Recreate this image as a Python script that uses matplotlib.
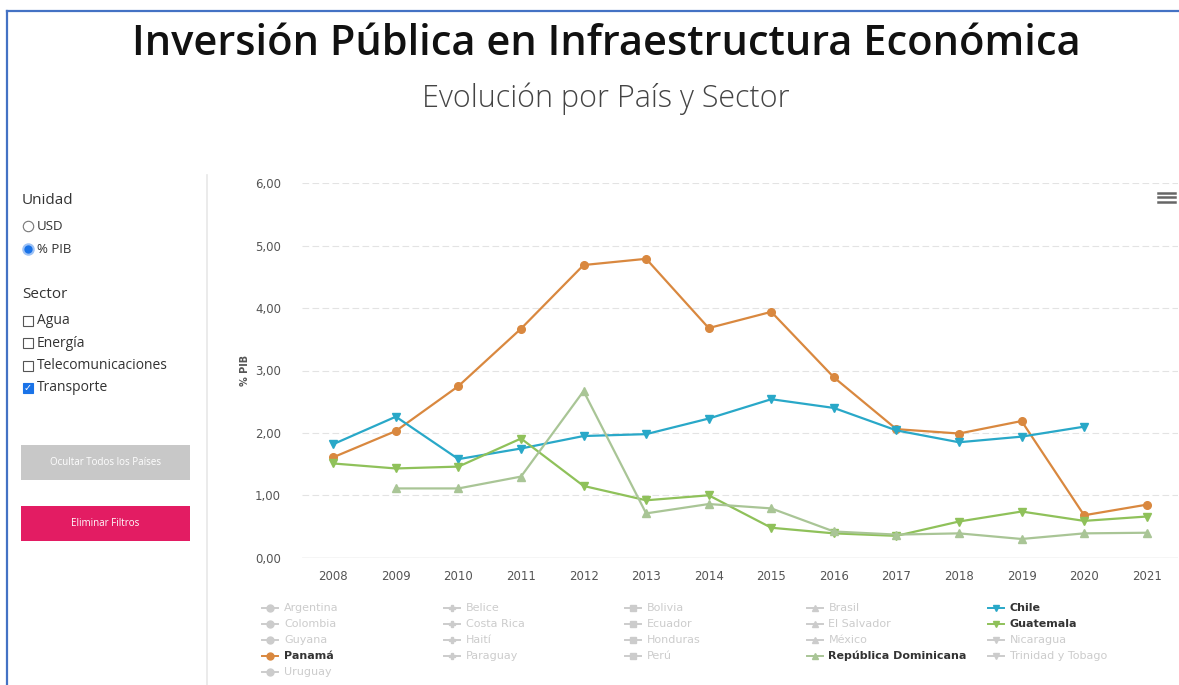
import numpy as np
import matplotlib.pyplot as plt
from matplotlib.lines import Line2D
from matplotlib.patches import Rectangle

# --- data ---
years = list(range(2008, 2022))

panama = [1.61, 2.03, 2.75, 3.67, 4.69, 4.79, 3.68, 3.94, 2.89, 2.06, 1.99, 2.19, 0.68, 0.85]
chile = [1.82, 2.26, 1.58, 1.75, 1.95, 1.98, 2.23, 2.54, 2.40, 2.04, 1.85, 1.94, 2.10, np.nan]
guatemala = [1.51, 1.43, 1.46, 1.91, 1.15, 0.92, 1.00, 0.48, 0.39, 0.35, 0.58, 0.74, 0.59, 0.66]
rep_dom = [np.nan, 1.11, 1.11, 1.30, 2.67, 0.71, 0.86, 0.79, 0.42, 0.37, 0.39, 0.30, 0.39, 0.40]

y_ticks = [0, 1, 2, 3, 4, 5, 6]

legend_names = ['Argentina', 'Belice', 'Bolivia', 'Brasil', 'Chile',
                'Colombia', 'Costa Rica', 'Ecuador', 'El Salvador', 'Guatemala',
                'Guyana', 'Haití', 'Honduras', 'México', 'Nicaragua',
                'Panamá', 'Paraguay', 'Perú', 'República Dominicana', 'Trinidad y Tobago',
                'Uruguay']
legend_markers = ['o', 'P', 's', '^', 'v'] * 5

series = {
    'Panamá': (panama, '#d9883f', 'o'),
    'Chile': (chile, '#29a8c8', 'v'),
    'Guatemala': (guatemala, '#8fc15a', 'v'),
    'República Dominicana': (rep_dom, '#a9c596', '^'),
}

W, H = 1179, 685


def px(x, y):
    return x / W, 1 - y / H


fig = plt.figure(figsize=(W / 100, H / 100), dpi=100)
fig.patch.set_facecolor('white')

# page frame (blue border on top and left)
fig.add_artist(Line2D([px(7, 0)[0], 1], [px(0, 11)[1]] * 2, color='#4472c4', lw=1.6))
fig.add_artist(Line2D([px(7, 0)[0]] * 2, [px(0, 11)[1], 0], color='#4472c4', lw=1.6))

# titles
fig.text(*px(606, 44), 'Inversión Pública en Infraestructura Económica',
         ha='center', va='center', fontsize=30, family='Open Sans', color='#111111',
         fontweight='semibold')
fig.text(*px(606, 99), 'Evolución por País y Sector',
         ha='center', va='center', fontsize=22, family='Open Sans', color='#444444',
         fontweight='light')

# sidebar
fig.add_artist(Line2D([px(207, 0)[0]] * 2, [px(0, 175)[1], 0], color='#e8e8e8', lw=1.2))
side_font = dict(family='Open Sans', color='#333333', va='center')
fig.text(*px(22, 200), 'Unidad', fontsize=11, **side_font)
fig.text(*px(22, 295), 'Sector', fontsize=11, **side_font)

radio = [('USD', False), ('% PIB', True)]
for i, (lab, on) in enumerate(radio):
    yy = 226 + i * 23
    fig.add_artist(Line2D([px(28, 0)[0]], [px(0, yy)[1]], marker='o', ms=7.5,
                          mfc='#1a73e8' if on else 'white',
                          mec='#9ec2f5' if on else '#777777', mew=0.8 if not on else 1.5))
    fig.text(*px(37, yy), lab, fontsize=9.5, **side_font)

checks = [('Agua', False), ('Energía', False), ('Telecomunicaciones', False), ('Transporte', True)]
for i, (lab, on) in enumerate(checks):
    yy = 321 + i * 22.3
    fig.add_artist(Rectangle(px(23, yy + 5), 10 / W, 10 / H, transform=fig.transFigure,
                             fc='#1a73e8' if on else 'white',
                             ec='#1a73e8' if on else '#555555', lw=0.8))
    if on:
        fig.text(*px(28, yy), '✓', fontsize=7, ha='center', va='center', color='white',
                 fontweight='bold')
    fig.text(*px(37, yy), lab, fontsize=10, **side_font)

buttons = [('Ocultar Todos los Países', '#c8c8c8', 445), ('Eliminar Filtros', '#e31c63', 506)]
for lab, col, top in buttons:
    fig.add_artist(Rectangle(px(21, top + 35), 169 / W, 35 / H, transform=fig.transFigure,
                             fc=col, ec='none'))
    fig.text(*px(105.5, top + 17.5), lab, fontsize=7, ha='center', va='center',
             family='Open Sans', color='white')

# chart
l, b = px(302, 557.7)
r, t = px(1178, 183.3)
ax = fig.add_axes([l, b, r - l, t - b])

for name, (vals, col, mk) in series.items():
    ax.plot(years, vals, color=col, lw=1.6, marker=mk, ms=5.5, mec=col, mfc=col, zorder=3)

ax.set_xlim(2007.5, 2021.5)
ax.set_ylim(0, 6)
ax.set_yticks(y_ticks)
ax.set_yticklabels([f'{v:.2f}'.replace('.', ',') for v in y_ticks])
ax.set_xticks(years)
ax.tick_params(axis='both', length=0, labelsize=8.5, labelcolor='#555555')
ax.tick_params(axis='y', pad=15)
ax.tick_params(axis='x', pad=9)
ax.grid(axis='y', color='#e3e3e3', lw=0.8, ls=(0, (6, 3)))
ax.set_axisbelow(True)
for s in ax.spines.values():
    s.set_visible(False)
ax.axhline(0, color='#d6d6d6', lw=1, zorder=1)
ax.set_ylabel('% PIB', fontsize=7, color='#555555', fontweight='bold', labelpad=4)

# hamburger menu
for k in range(3):
    yy = 193 + k * 4.5
    fig.add_artist(Line2D([px(1158, 0)[0], px(1175, 0)[0]], [px(0, yy)[1]] * 2,
                          color='#666666', lw=1.8))

# legend (5 columns, filled row by row)
active = {n: c for n, (v, c, m) in series.items()}
for i, name in enumerate(legend_names):
    row, colm = divmod(i, 5)
    x0 = 262 + colm * 181.5
    yy = 608 + row * 16
    col = active.get(name, '#cccccc')
    fig.add_artist(Line2D([px(x0, 0)[0], px(x0 + 16, 0)[0]], [px(0, yy)[1]] * 2,
                          color=col, lw=1.4))
    fig.add_artist(Line2D([px(x0 + 8, 0)[0]], [px(0, yy)[1]], color=col,
                          marker=legend_markers[i], ms=5, mec=col, mfc=col))
    fig.text(*px(x0 + 22, yy), name, fontsize=8, va='center',
             color='#333333' if name in active else '#cccccc',
             fontweight='bold' if name in active else 'normal')

fig.savefig('out.png', dpi=100)
